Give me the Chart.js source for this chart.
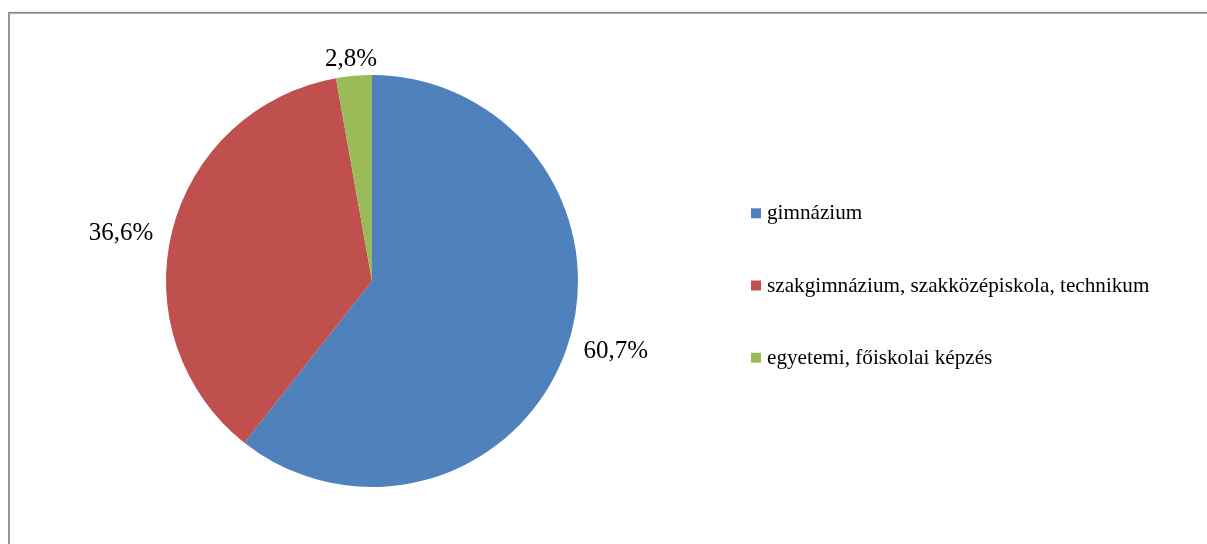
<!DOCTYPE html>
<html>
<head>
<meta charset="utf-8">
<script src="https://cdn.jsdelivr.net/npm/chart.js@4/dist/chart.umd.min.js"></script>
<style>
html,body{margin:0;padding:0;background:#fff;}
#wrap{position:relative;width:1207px;height:544px;}
</style>
</head>
<body>
<div id="wrap"><canvas id="c" width="1207" height="544"></canvas></div>
<script>
const categories = ['gimnázium', 'szakgimnázium, szakközépiskola, technikum', 'egyetemi, főiskolai képzés'];
const values = [60.7, 36.6, 2.8];
const colors = ['#4F81BD', '#C0504D', '#9BBB59'];

const fmt = v => v.toFixed(1).replace('.', ',') + '%';

const framePlugin = {
  id: 'frame',
  beforeDraw(chart) {
    const ctx = chart.ctx;
    ctx.save();
    ctx.fillStyle = '#fff';
    ctx.fillRect(0, 0, chart.width, chart.height);
    ctx.strokeStyle = '#8a8a8a';
    ctx.lineWidth = 1.8;
    ctx.strokeRect(9, 12.8, 1400, 700);
    ctx.restore();
  }
};

const labelPlugin = {
  id: 'outLabels',
  afterDatasetsDraw(chart) {
    const ctx = chart.ctx;
    const meta = chart.getDatasetMeta(0);
    ctx.save();
    ctx.font = '25px "Liberation Serif", "Times New Roman", serif';
    ctx.fillStyle = '#000';
    meta.data.forEach((arc, i) => {
      const p = arc.getProps(['x', 'y', 'startAngle', 'endAngle', 'outerRadius'], true);
      const mid = (p.startAngle + p.endAngle) / 2;
      const c = Math.cos(mid), s = Math.sin(mid);
      const ex = p.x + p.outerRadius * c, ey = p.y + p.outerRadius * s;
      const txt = fmt(chart.data.datasets[0].data[i]);
      if (Math.abs(c) > 0.5) {
        ctx.textBaseline = 'middle';
        ctx.textAlign = c > 0 ? 'left' : 'right';
        ctx.fillText(txt, ex + (c > 0 ? 17 : -19), ey + 2.5);
      } else {
        ctx.textAlign = 'center';
        ctx.textBaseline = 'alphabetic';
        ctx.fillText(txt, ex - 3, ey - 10);
      }
    });
    ctx.restore();
  }
};

const legendPlugin = {
  id: 'customLegend',
  afterDraw(chart) {
    const ctx = chart.ctx;
    ctx.save();
    ctx.font = '21.2px "Liberation Serif", "Times New Roman", serif';
    ctx.textBaseline = 'alphabetic';
    ctx.textAlign = 'left';
    categories.forEach((name, i) => {
      const y = 208.3 + i * 72.2;
      ctx.fillStyle = colors[i];
      ctx.fillRect(751, y, 10, 10);
      ctx.fillStyle = '#000';
      ctx.fillText(name, 767, y + 11);
    });
    ctx.restore();
  }
};

new Chart(document.getElementById('c'), {
  type: 'pie',
  data: {
    labels: categories,
    datasets: [{
      data: values,
      backgroundColor: colors,
      borderWidth: 0,
      hoverOffset: 0
    }]
  },
  options: {
    responsive: false,
    animation: false,
    events: [],
    layout: { padding: { left: 166, right: 629, top: 75, bottom: 57 } },
    plugins: {
      legend: { display: false },
      tooltip: { enabled: false },
      title: { display: false }
    }
  },
  plugins: [framePlugin, labelPlugin, legendPlugin]
});
</script>
</body>
</html>
